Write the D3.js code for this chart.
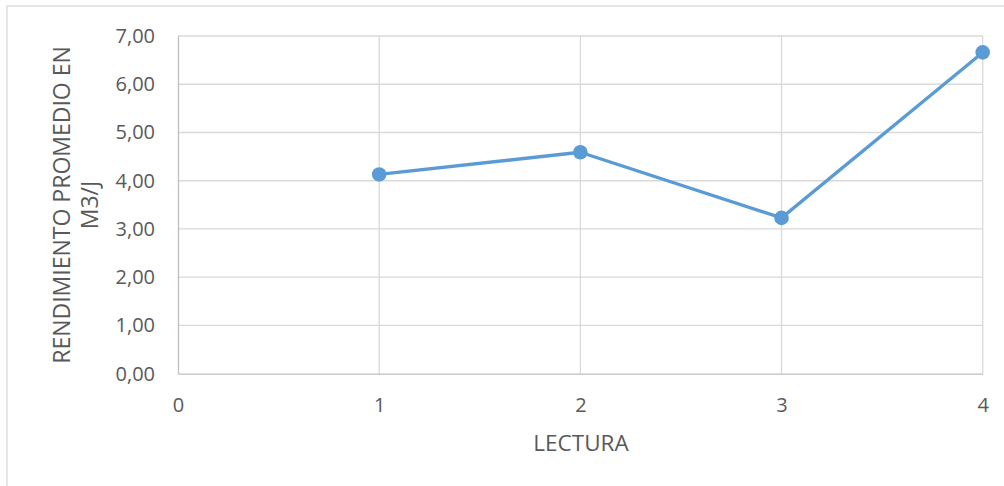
<!DOCTYPE html>
<html>
<head>
<meta charset="utf-8">
<script src="https://cdn.jsdelivr.net/npm/d3@7"></script>
<style>
  html, body { margin: 0; padding: 0; background: #fff; }
  svg { display: block; }
  text { font-family: "Open Sans", "Noto Sans", sans-serif; fill: #595959; }
</style>
</head>
<body>
<svg id="chart" width="1004" height="486"></svg>
<script>
// Lecturas y rendimiento promedio (m3/J)
const lecturas = [1, 2, 3, 4];
const rendimiento = [4.13, 4.59, 3.23, 6.66];
const xTicks = [0, 1, 2, 3, 4];
const yTicks = [0, 1, 2, 3, 4, 5, 6, 7];
const xTitle = "LECTURA";
const yTitleLines = ["RENDIMIENTO PROMEDIO EN", "M3/J"];

const svg = d3.select("#chart");
const W = 1004, H = 486;
const plot = { left: 178, right: 982.7, top: 36, bottom: 373.7 };

// outer chart frame
svg.append("rect")
  .attr("x", 7).attr("y", 6)
  .attr("width", W + 10).attr("height", H + 10)
  .attr("fill", "#fff").attr("stroke", "#d9d9d9").attr("stroke-width", 1.3);

const x = d3.scaleLinear().domain([0, 4]).range([plot.left, plot.right]);
const y = d3.scaleLinear().domain([0, 7]).range([plot.bottom, plot.top]);

// horizontal gridlines
svg.append("g")
  .selectAll("line").data(yTicks.filter(d => d > 0)).join("line")
  .attr("x1", plot.left).attr("x2", plot.right)
  .attr("y1", d => y(d)).attr("y2", d => y(d))
  .attr("stroke", "#d9d9d9").attr("stroke-width", 1.3);

// vertical gridlines
svg.append("g")
  .selectAll("line").data(xTicks.filter(d => d > 0)).join("line")
  .attr("x1", d => x(d)).attr("x2", d => x(d))
  .attr("y1", plot.top).attr("y2", plot.bottom)
  .attr("stroke", "#d9d9d9").attr("stroke-width", 1.3);

// axes
const xAxis = d3.axisBottom(x).tickValues(xTicks).tickSize(0).tickPadding(24)
  .tickFormat(d3.format("d"));
const gx = svg.append("g").attr("transform", `translate(0,${plot.bottom})`).call(xAxis);
gx.select(".domain").attr("stroke", "#bfbfbf").attr("stroke-width", 1.3);
gx.selectAll("text").attr("font-size", 20).attr("fill", "#595959")
  .attr("font-family", "'Open Sans', sans-serif");

const fmtComma = d => d3.format(".2f")(d).replace(".", ",");
const yAxis = d3.axisLeft(y).tickValues(yTicks).tickSize(0).tickPadding(23)
  .tickFormat(fmtComma);
const gy = svg.append("g").attr("transform", `translate(${plot.left},0)`).call(yAxis);
gy.select(".domain").attr("stroke", "#bfbfbf").attr("stroke-width", 1.3);
gy.selectAll("text").attr("font-size", 20).attr("fill", "#595959")
  .attr("font-family", "'Open Sans', sans-serif");

// series line and markers
const pts = lecturas.map((l, i) => [l, rendimiento[i]]);
svg.append("path")
  .datum(pts)
  .attr("fill", "none")
  .attr("stroke", "#5b9bd5")
  .attr("stroke-width", 3.3)
  .attr("stroke-linejoin", "round")
  .attr("d", d3.line().x(d => x(d[0])).y(d => y(d[1])));

svg.append("g")
  .selectAll("circle").data(pts).join("circle")
  .attr("cx", d => x(d[0])).attr("cy", d => y(d[1]))
  .attr("r", 7.3)
  .attr("fill", "#5b9bd5");

// axis titles
svg.append("text")
  .attr("x", 581).attr("y", 451)
  .attr("text-anchor", "middle")
  .attr("font-size", 22.5)
  .text(xTitle);

const yt = svg.append("text")
  .attr("transform", "translate(0,205) rotate(-90)")
  .attr("text-anchor", "middle")
  .attr("font-size", 23);
yTitleLines.forEach((line, i) => {
  yt.append("tspan").attr("x", 0).attr("y", 70 + i * 28).text(line);
});
</script>
</body>
</html>
